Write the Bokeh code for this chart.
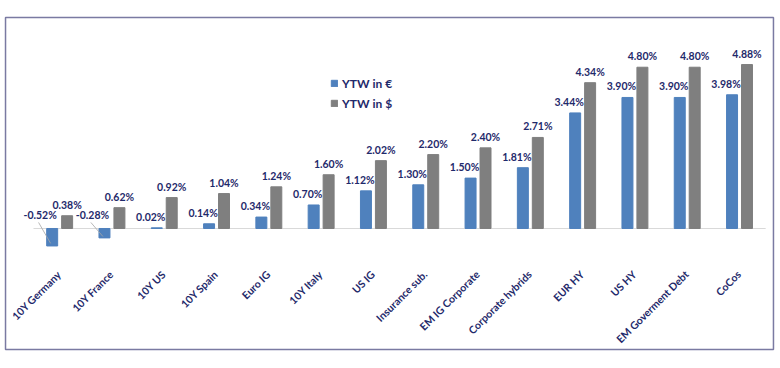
import math
from bokeh.plotting import figure
from bokeh.models import Range1d, Legend, LegendItem, ColumnDataSource
from bokeh.core.properties import value
from bokeh.embed import file_html
from bokeh.resources import INLINE

categories = ["10Y Germany", "10Y France", "10Y US", "10Y Spain", "Euro IG", "10Y Italy",
              "US IG", "Insurance sub.", "EM IG Corporate", "Corporate hybrids", "EUR HY",
              "US HY", "EM Goverment Debt", "CoCos"]
ytw_eur = [-0.52, -0.28, 0.02, 0.14, 0.34, 0.70, 1.12, 1.30, 1.50, 1.81, 3.44, 3.90, 3.90, 3.98]
ytw_usd = [0.38, 0.62, 0.92, 1.04, 1.24, 1.60, 2.02, 2.20, 2.40, 2.71, 4.34, 4.80, 4.80, 4.88]
series_names = ["YTW in €", "YTW in $"]

BLUE = "#4F81BD"
GRAY = "#7F7F7F"
NAVY = "#1F2A6B"
FONT = value("Lato")

n = len(categories)
idx = list(range(n))
off = 0.143
bw = 0.21

p = figure(width=776, height=360, output_backend="svg", toolbar_location=None,
           x_range=Range1d(-1.131, 13.707), y_range=Range1d(-3.929, 6.786),
           x_axis_location=None, y_axis_location=None,
           min_border_left=0, min_border_right=0, min_border_top=0, min_border_bottom=0)
p.xgrid.visible = False
p.ygrid.visible = False
p.outline_line_color = None
p.background_fill_color = "white"
p.border_fill_color = "white"

# chart border box
p.quad(left=[-1.035], right=[13.649], bottom=[-3.601], top=[6.280],
       fill_alpha=0, line_color="#7A7AA2", line_width=1.5)

# zero line
p.segment(x0=[-0.5], y0=[0], x1=[n - 0.5], y1=[0], line_color="#D9D9D9", line_width=1)

src_e = ColumnDataSource(dict(x=[i - off for i in idx], top=ytw_eur,
                              lab=[f"{v:.2f}%" for v in ytw_eur]))
src_d = ColumnDataSource(dict(x=[i + off for i in idx], top=ytw_usd,
                              lab=[f"{v:.2f}%" for v in ytw_usd]))

r_e = p.vbar(x="x", top="top", bottom=0, width=bw, color=BLUE, source=src_e)
r_d = p.vbar(x="x", top="top", bottom=0, width=bw, color=GRAY, source=src_d)

# data labels
pos_e = [i for i in idx if ytw_eur[i] >= 0]
neg_e = [i for i in idx if ytw_eur[i] < 0]
p.text(x=[i - off for i in pos_e], y=[ytw_eur[i] for i in pos_e],
       text=[f"{ytw_eur[i]:.2f}%" for i in pos_e], x_offset=-6, y_offset=-11,
       text_align="center", text_baseline="middle", text_font=FONT,
       text_font_style="bold", text_font_size="10.5px", text_color=NAVY)
p.text(x=[i - off for i in neg_e], y=[0 for i in neg_e],
       text=[f"{ytw_eur[i]:.2f}%" for i in neg_e], x_offset=-12, y_offset=-13,
       text_align="center", text_baseline="middle", text_font=FONT,
       text_font_style="bold", text_font_size="10.5px", text_color=NAVY)
p.text(x="x", y="top", text="lab", source=src_d, y_offset=-11,
       text_align="center", text_baseline="middle", text_font=FONT,
       text_font_style="bold", text_font_size="10.5px", text_color=NAVY)

# leader lines for negative labels
p.segment(x0=[i - off - 0.26 for i in neg_e], y0=[0.18 for i in neg_e],
          x1=[i - off - 0.03 for i in neg_e], y1=[ytw_eur[i] * 0.85 for i in neg_e],
          line_color="#A6A6A6", line_width=0.8)

# category labels
p.text(x=[i - 0.01 for i in idx], y=[-1.31] * n, text=categories, angle=math.pi / 4,
       text_align="right", text_baseline="middle", text_font=FONT,
       text_font_style="bold", text_font_size="10.5px", text_color=NAVY)

legend = Legend(items=[LegendItem(label=series_names[0], renderers=[r_e]),
                       LegendItem(label=series_names[1], renderers=[r_d])],
                location=(330, 247), orientation="vertical",
                background_fill_alpha=0, border_line_alpha=0, padding=0, margin=0,
                spacing=0, glyph_width=8, glyph_height=8, label_standoff=4,
                label_height=20, label_text_font="Lato", label_text_font_style="bold",
                label_text_font_size="12px", label_text_color=NAVY)
p.add_layout(legend)

open("out.html", "w").write(file_html(p, INLINE))
